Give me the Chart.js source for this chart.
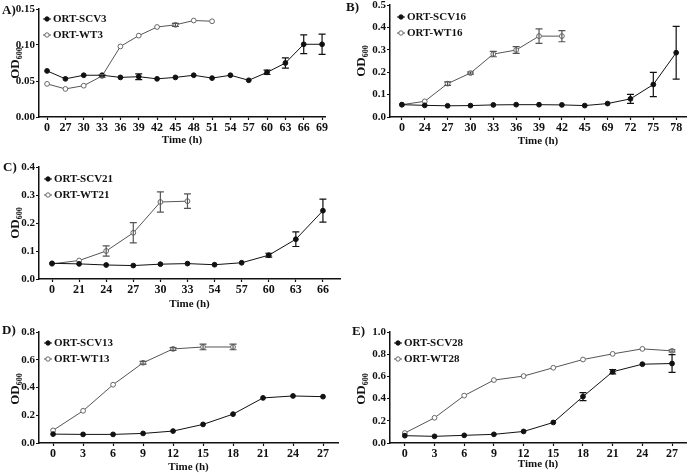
<!DOCTYPE html>
<html lang="en">
<head>
<meta charset="UTF-8">
<title>OD600 growth curves</title>
<script src="https://cdn.jsdelivr.net/npm/chart.js"></script>
<style>
  body {margin:0;background:#fff;}
  #wrap {position:relative;width:691px;height:473px;overflow:hidden;font-family:'Liberation Serif','Times New Roman',serif;color:#111;}
  .panel {position:absolute;}
  .letter {position:absolute;font-weight:bold;font-size:13px;line-height:13px;}
  .ytitle {position:absolute;font-weight:bold;font-size:13px;white-space:nowrap;transform:translate(-50%,-50%) rotate(-90deg);}
  .ytitle sub {font-size:8px;vertical-align:-3px;}
</style>
</head>
<body>
<div id="wrap">
  <div class="panel" style="left:0;top:0;width:345px;height:160px"><canvas id="cA"></canvas></div>
  <div class="panel" style="left:345px;top:0;width:346px;height:160px"><canvas id="cB"></canvas></div>
  <div class="panel" style="left:0;top:160px;width:345px;height:155px"><canvas id="cC"></canvas></div>
  <div class="panel" style="left:0;top:315px;width:345px;height:158px"><canvas id="cD"></canvas></div>
  <div class="panel" style="left:345px;top:315px;width:346px;height:158px"><canvas id="cE"></canvas></div>

  <div class="letter" style="left:2px;top:3px">A)</div>
  <div class="letter" style="left:346px;top:0px">B)</div>
  <div class="letter" style="left:3px;top:160px">C)</div>
  <div class="letter" style="left:2px;top:323px">D)</div>
  <div class="letter" style="left:352px;top:324px">E)</div>

  <div class="ytitle" style="left:15px;top:63px">OD<sub>600</sub></div>
  <div class="ytitle" style="left:361px;top:61px">OD<sub>600</sub></div>
  <div class="ytitle" style="left:15px;top:223px">OD<sub>600</sub></div>
  <div class="ytitle" style="left:15px;top:389px">OD<sub>600</sub></div>
  <div class="ytitle" style="left:361px;top:389px">OD<sub>600</sub></div>
</div>
<script>
// ---- data ----
// A
const timeA = ['0','27','30','33','36','39','42','45','48','51','54','57','60','63','66','69'];
const scv3 = [0.064,0.053,0.058,0.058,0.055,0.056,0.053,0.055,0.058,0.054,0.058,0.051,0.062,0.075,0.101,0.101];
const scv3Err = [0,0,0,0,0,0.004,0,0,0,0,0,0,0.003,0.007,0.013,0.014];
const wt3 = [0.046,0.039,0.0435,0.057,0.098,0.113,0.125,0.128,0.134,0.133];
const wt3Err = [0,0,0,0.002,0,0,0,0.002,0,0];
const yTicksA = [0,0.05,0.10,0.15];
// B
const timeB = ['0','24','27','30','33','36','39','42','45','69','72','75','78'];
const scv16 = [0.055,0.052,0.050,0.051,0.054,0.055,0.055,0.054,0.051,0.060,0.081,0.145,0.287];
const scv16Err = [0,0,0,0,0,0,0,0,0,0,0.02,0.054,0.118];
const wt16 = [0.055,0.070,0.149,0.196,0.281,0.299,0.361,0.361];
const wt16Err = [0,0,0.008,0.005,0.012,0.015,0.032,0.025];
const yTicksB = [0,0.1,0.2,0.3,0.4,0.5];
// C
const timeC = ['0','21','24','27','30','33','54','57','60','63','66'];
const scv21 = [0.056,0.054,0.050,0.048,0.053,0.055,0.051,0.058,0.085,0.142,0.244];
const scv21Err = [0,0,0,0,0,0,0,0,0.007,0.026,0.041];
const wt21 = [0.054,0.066,0.100,0.165,0.275,0.278];
const wt21Err = [0,0,0.018,0.036,0.036,0.026];
const yTicksC = [0,0.1,0.2,0.3,0.4];
// D
const timeD = ['0','3','6','9','12','15','18','21','24','27'];
const scv13 = [0.064,0.062,0.062,0.069,0.086,0.134,0.208,0.325,0.339,0.334];
const scv13Err = [0,0,0,0,0,0,0,0,0,0];
const wt13 = [0.091,0.232,0.420,0.578,0.678,0.692,0.692];
const wt13Err = [0,0,0,0.01,0.01,0.02,0.02];
const yTicksD = [0,0.2,0.4,0.6,0.8];
// E
const timeE = ['0','3','6','9','12','15','18','21','24','27'];
const scv28 = [0.066,0.060,0.069,0.078,0.104,0.185,0.418,0.642,0.710,0.716];
const scv28Err = [0,0,0,0,0,0,0.036,0.02,0,0.08];
const wt28 = [0.090,0.227,0.427,0.567,0.603,0.678,0.752,0.803,0.848,0.830];
const wt28Err = [0,0,0,0,0,0,0,0,0,0.01];
const yTicksE = [0,0.2,0.4,0.6,0.8,1.0];

Chart.defaults.font.family = "'Liberation Serif','Times New Roman',serif";
Chart.defaults.font.weight = 'bold';
Chart.defaults.font.size = 11;
Chart.defaults.color = '#111';

// error bars drawn through the chart scales
const errorBars = {
  id: 'errorBars',
  afterDatasetsDraw(chart) {
    const ctx = chart.ctx, xs = chart.scales.x, ys = chart.scales.y;
    ctx.save();
    chart.data.datasets.forEach(ds => {
      if (!ds.errors) return;
      ctx.strokeStyle = ds.borderColor;
      ctx.lineWidth = 1.2;
      ds.data.forEach((p, i) => {
        const e = ds.errors[i];
        if (!e) return;
        const x = xs.getPixelForValue(p.x);
        const y1 = ys.getPixelForValue(p.y + e), y2 = ys.getPixelForValue(p.y - e);
        ctx.beginPath();
        ctx.moveTo(x, y1); ctx.lineTo(x, y2);
        ctx.moveTo(x - 3.5, y1); ctx.lineTo(x + 3.5, y1);
        ctx.moveTo(x - 3.5, y2); ctx.lineTo(x + 3.5, y2);
        ctx.stroke();
      });
    });
    ctx.restore();
  }
};

// Prism-like legend inside the plot area
const innerLegend = {
  id: 'innerLegend',
  afterDraw(chart, args, opts) {
    const ctx = chart.ctx, ca = chart.chartArea;
    ctx.save();
    ctx.font = "bold 11px 'Liberation Serif','Times New Roman',serif";
    ctx.textBaseline = 'middle';
    chart.data.datasets.forEach((ds, i) => {
      const x = ca.left + opts.dx, y = ca.top + opts.dy + i * 16;
      ctx.strokeStyle = ds.borderColor;
      ctx.lineWidth = 1;
      ctx.beginPath(); ctx.moveTo(x - 4, y); ctx.lineTo(x + 4, y); ctx.stroke();
      ctx.beginPath(); ctx.arc(x, y, 2.2, 0, Math.PI * 2);
      ctx.fillStyle = ds.pointBackgroundColor; ctx.fill();
      ctx.strokeStyle = ds.pointBorderColor; ctx.stroke();
      ctx.fillStyle = '#111';
      ctx.fillText(ds.label, x + 6, y + 0.5);
    });
    ctx.restore();
  }
};

function makePanel(id, box, area, xr, titleY, labels, yTicks, dec, names, scv, scvErr, wt, wtErr, leg) {
  const pts = arr => arr.map((v, i) => ({x: i, y: v}));
  new Chart(document.getElementById(id), {
    type: 'line',
    data: {
      datasets: [
        {label: names[0], data: pts(scv), errors: scvErr, borderColor: '#111', borderWidth: 1,
         pointRadius: 2.4, pointBackgroundColor: '#111', pointBorderColor: '#111', pointBorderWidth: 1, tension: 0},
        {label: names[1], data: pts(wt), errors: wtErr, borderColor: '#555', borderWidth: 1,
         pointRadius: 2.4, pointBackgroundColor: '#fff', pointBorderColor: '#666', pointBorderWidth: 1, tension: 0}
      ]
    },
    options: {
      responsive: true, maintainAspectRatio: false, animation: false,
      layout: {padding: {top: area.top - box.y, right: box.x + box.w - area.right, left: 0, bottom: 0}},
      plugins: {legend: {display: false}, tooltip: {enabled: false}, innerLegend: leg},
      scales: {
        x: {
          type: 'linear', min: xr[0], max: xr[1],
          afterBuildTicks: s => { s.ticks = labels.map((_, i) => ({value: i})); },
          afterFit: s => { s.height = box.y + box.h - area.bottom; s.paddingLeft = 0; s.paddingRight = 0; },
          ticks: {callback: v => labels[v], maxRotation: 0, autoSkip: false, padding: 1, color: '#111',
                  font: {size: 12, weight: 'bold'}},
          grid: {drawOnChartArea: false, drawTicks: true, tickLength: 3, tickColor: '#111', tickWidth: 1.2},
          border: {display: true, color: '#111', width: 1.5},
          title: {display: true, text: 'Time (h)', color: '#111',
                  font: {size: 11, weight: 'bold'},
                  padding: {top: 0, bottom: box.y + box.h - titleY - 6.6}}
        },
        y: {
          min: yTicks[0], max: yTicks[yTicks.length - 1],
          afterBuildTicks: s => { s.ticks = yTicks.map(v => ({value: v})); },
          afterFit: s => { s.width = area.left - box.x; s.paddingTop = 0; s.paddingBottom = 0; },
          ticks: {callback: v => v.toFixed(dec), padding: 1, color: '#111'},
          grid: {drawOnChartArea: false, drawTicks: true, tickLength: 3, tickColor: '#111', tickWidth: 1.2},
          border: {display: true, color: '#111', width: 1.5}
        }
      }
    },
    plugins: [errorBars, innerLegend]
  });
}

makePanel('cA', {x:0,y:0,w:345,h:160}, {left:39,top:9,right:325,bottom:117}, [-0.44,15.16], 140,
  timeA, yTicksA, 2, ['ORT-SCV3','ORT-WT3'], scv3, scv3Err, wt3, wt3Err, {dx:8, dy:10});
makePanel('cB', {x:345,y:0,w:346,h:160}, {left:390,top:5,right:690,bottom:117}, [-0.52,12.43], 141,
  timeB, yTicksB, 1, ['ORT-SCV16','ORT-WT16'], scv16, scv16Err, wt16, wt16Err, {dx:11, dy:12});
makePanel('cC', {x:0,y:160,w:345,h:155}, {left:39,top:167,right:340,bottom:279}, [-0.48,10.63], 304,
  timeC, yTicksC, 1, ['ORT-SCV21','ORT-WT21'], scv21, scv21Err, wt21, wt21Err, {dx:9, dy:12});
makePanel('cD', {x:0,y:315,w:345,h:158}, {left:39,top:332,right:338,bottom:443}, [-0.47,9.5], 467,
  timeD, yTicksD, 1, ['ORT-SCV13','ORT-WT13'], scv13, scv13Err, wt13, wt13Err, {dx:9, dy:11});
makePanel('cE', {x:345,y:315,w:346,h:158}, {left:390,top:332,right:688,bottom:443}, [-0.5,9.47], 464,
  timeE, yTicksE, 1, ['ORT-SCV28','ORT-WT28'], scv28, scv28Err, wt28, wt28Err, {dx:8, dy:11});
</script>
</body>
</html>
